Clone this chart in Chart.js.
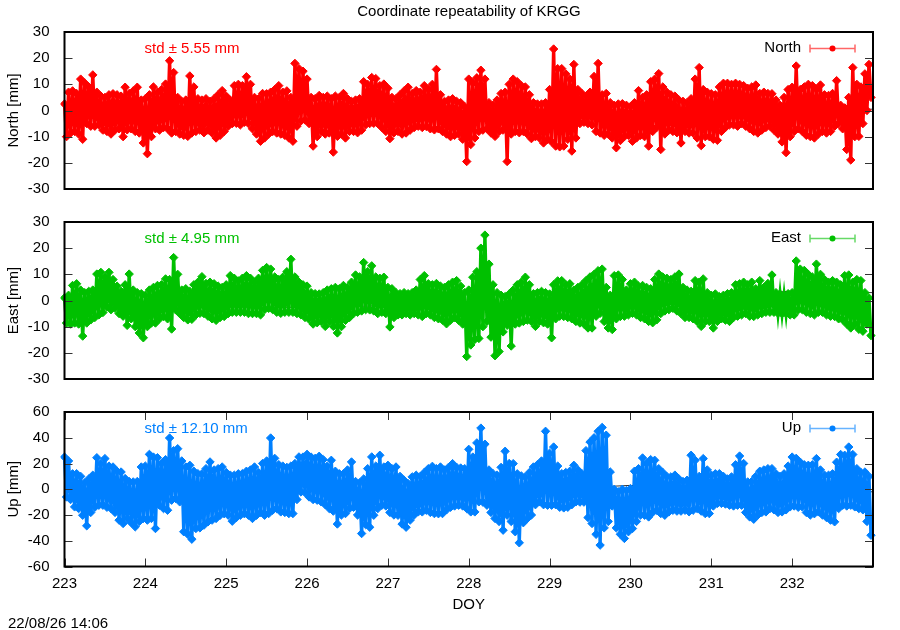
<!DOCTYPE html>
<html>
<head>
<meta charset="utf-8">
<script src="https://cdn.jsdelivr.net/npm/chart.js@4.4.1/dist/chart.umd.min.js"></script>
<style>
  html, body { margin: 0; padding: 0; background: #fff; }
  #wrap { position: relative; width: 900px; height: 630px; overflow: hidden;
          font-family: "Liberation Sans", Arial, sans-serif; color: #000; }
  #wrap canvas { position: absolute; left: 0; }
  .txt { position: absolute; font-size: 15px; line-height: 17px; white-space: nowrap; }
</style>
</head>
<body>
<div id="wrap">
  <canvas id="cNorth" width="900" height="205" style="top:0;width:900px;height:205px"></canvas>
  <canvas id="cEast" width="900" height="190" style="top:205px;width:900px;height:190px"></canvas>
  <canvas id="cUp" width="900" height="235" style="top:395px;width:900px;height:235px"></canvas>
  <div class="txt" style="left:0;width:938px;text-align:center;top:2px">Coordinate repeatability of KRGG</div>
  <div class="txt" style="left:8px;top:614px">22/08/26 14:06</div>
</div>
<script>
// sampling grid: one upper/lower pair every 0.05 day starting at DOY 223
const DAY0 = 223;
const STEP = 0.05;

const dayTicks = [223, 224, 225, 226, 227, 228, 229, 230, 231, 232, 233];
const neTicks = [-30, -20, -10, 0, 10, 20, 30];
const upTicks = [-60, -40, -20, 0, 20, 40, 60];

// North [mm]
const northHi = [2.5,7,7.5,6.5,12,10.5,9,13.6,7,5.5, 5,6,6.4,6,5.5,8.9,6.5,7.5,8.9,4,
  4.5,6,9,7,8,10.1,19,14.5,5,3.5, 4,13.2,9,4.5,4,4.5,3.5,4.5,6,7.6,
  5.5,4,9.5,10,9.5,12.9,10,5,4.5,6.5, 6.4,7,8,9.5,7,7.5,5,18,16,15,
  12,5,4.5,5.75,5,5.5,4.5,5.5,5,6.5, 4.5,3.5,4,4.5,11,10,12.6,12.2,9.5,10.1,
  8.5,5,4.5,6,7.5,8.9,6.5,7.6,7,9.5, 8,10,15.7,6,3.5,4,4.5,3.5,3,1.5,
  12,10.5,12.5,15.4,12,3,2,4,6.5,7, 10,12,11,9.5,9,6,3,2.5,2.5,3,
  8,23.5,16,16,14,12,17.6,8,6.5,5.5, 7,13,18,6,6.5,3,2,2.5,2.6,2,
  1.5,3,7.6,5,6,11,12,14.1,9,7, 6,5.5,4,3.5,3,4.5,12,16.4,8,7,
  6.4,6,9,10.4,10.4,10,10.4,10,9.5,8.5, 9,9.75,6.5,7,6.5,6.4,4,2,5,8,
  8.9,17,8,9,10,9.5,8,9.75,6,5.75, 6.5,11.4,2,1,5,16.4,10,9,14,17.6];
const northLo = [-10,-8.6,-8,-9,-11,-5,-6,-6,-5.5,-7.5, -8,-9,-7.5,-7,-10,-7.4,-7,-8,-8.6,-12.4,
  -16.5,-10,-7,-7.5,-6.5,-7,-8.6,-8,-9,-9.5, -9.9,-8.6,-8,-7.5,-8.5,-7.5,-8.6,-10.5,-9.5,-8,
  -6,-5,-4.9,-5.5,-4.5,-5,-7,-9,-11.75,-10.5, -9,-8,-8.6,-9,-9.5,-10.5,-11.75,-6,-4,-3.6,
  -5,-13.6,-10,-8,-9,-8.6,-15.9,-9.9,-9,-10.5, -8,-8,-8.5,-7.5,-5.5,-5,-4.9,-5,-6.5,-8,
  -10.75,-8.5,-8,-9,-8.6,-7.5,-6.5,-6,-6.5,-6.1, -7,-7.4,-7,-8,-9,-10,-9.5,-9,-11,-19.5,
  -13,-10.5,-8,-7.5,-7,-8.6,-9.9,-8,-7.5,-19.5, -9,-8,-8.5,-8,-9,-10.75,-10,-10.5,-12.4,-11,
  -12,-13.6,-13.9,-13.6,-11,-15.5,-10.5,-5,-4.5,-5, -5.5,-8,-8.6,-9.5,-9,-10.5,-14.25,-11.5,-10,-9.5,
  -11.75,-10.5,-9.5,-10,-13.6,-8,-6.5,-14.9,-9,-7.5, -8,-8.5,-12.4,-8,-8.6,-8.6,-10.5,-13.4,-10,-10,
  -11,-11.4,-8,-6.5,-5.5,-5.5,-6,-5,-6,-7, -8,-8.6,-7.5,-6.5,-6,-7.5,-9,-12,-16.1,-10,
  -8,-7,-8,-9.5,-10,-10.5,-9,-8,-8.6,-8, -6,-5,-7,-14.9,-18.9,-10,-9.9,-5,0,5];

// East [mm]
const eastHi = [1,2,5.75,6.4,4,3,3.5,4,10.1,10.75, 9,10.75,8,5.5,3.5,6,10.1,4,3,2.6,
  2,4,5,5.75,6,8.25,8,16.4,10,4, 4.5,3.5,6,7,9.1,6.5,7,6.4,5.5,5,
  6,9.5,8.5,7.5,8.5,9.5,8.5,7,8.5,11.5, 12.6,12,9,8,8.9,11,15.75,9,7,6,
  5.5,3,2.6,2.5,3,4,4.5,5,4.5,5.75, 5,7,9.75,9,14.5,11,13.25,9,8.5,8.9,
  5,4.5,3,2.6,3,2.6,3,4,8,9.5, 6.4,6,6.5,5.5,5,6,7,7.6,5.5,3,
  4,8.9,11,20,25,13.9,6,3,2,1.5, 2.5,4,6,7,8.9,6,2.6,3,3.5,3,
  2.5,6,7.5,7.6,6,6.4,4,5,6,7.6, 9,10,11.4,12,5,2,9.5,9.75,8,4,
  6.4,7,5.5,5.75,5,4.5,8,10.1,9,8.5, 8,9,10.1,5,4,3.5,7.6,7,8.25,3,
  2,2.5,1.5,2,2.6,3,6,6.4,7,6, 7,4.5,7.6,5,6.5,9.75,3,2.5,2,2.6,
  3,15.1,12,11.5,10,9,13.9,10,8,7, 7.6,7,6,9.5,9.75,7,8,7.6,3,1];
const eastLo = [-8.6,-9,-8.6,-9,-13.6,-8.6,-7.4,-6.5,-5.5,-4.6, -2.5,-3.5,-3,-5,-6,-9.5,-7,-10,-12.4,-14.25,
  -10,-8.6,-8.6,-7,-6.1,-7,-10.9,-3.6,-5,-6.5, -7.4,-7.2,-5.5,-4.9,-5,-6,-7,-7.6,-6.5,-6.1,
  -5,-4.5,-4.5,-4.5,-4.5,-5,-5,-5,-5.5,-3.5, -3,-3.5,-4.5,-4.9,-4.5,-4.5,-4.5,-5,-5.5,-6.5,
  -7.2,-9,-8.5,-8,-9.9,-8,-9.9,-12.4,-10,-7.6, -6.5,-5,-4.5,-4,-3.5,-3.6,-4,-5,-4.5,-5,
  -10.1,-6.5,-5.5,-5.5,-5,-5.5,-5,-5.5,-6.1,-5, -5.5,-6.5,-7,-7.5,-8.9,-7.5,-6.5,-7.6,-9,-21.4,
  -17,-14.9,-14.5,-10,-8,-14,-21.1,-19.5,-12,-9.5, -17.4,-9,-8.6,-8,-7.5,-8,-9.9,-8,-8.5,-9,
  -14.25,-7,-6,-6.1,-6.5,-7,-8,-8.6,-9,-10.5, -10.5,-6,-4.9,-8,-10.5,-11.1,-7,-6.1,-6,-5.5,
  -4.9,-5.5,-6.5,-7,-8,-8.5,-7.4,-5,-4,-3.5, -3,-4,-5,-6.5,-6.5,-7,-8,-9.9,-8,-8,
  -10.5,-8,-7,-7.5,-8,-6.5,-6,-5.5,-5,-6, -6.1,-5.5,-5,-4.5,-4.5,-4.5,-4.9,-5,-5,-5.5,
  -5.5,-3.6,-3.5,-4.5,-5,-5.5,-4.5,-4.5,-5.5,-6, -6.1,-7,-7.4,-9,-10.5,-9,-11,-11.75,-9,-13.4];

// Up [mm]
const upHi = [25,22,12,12.1,10,5,8,10.9,24.5,20, 23.8,18,17.3,14,13.4,8.3,6,5.7,6,17.3,
  18,27.1,25,24.5,19.9,23,39.8,30,31.5,22, 17.3,18.6,14,12.1,12,16,21.2,15,16,17.3,
  13,11,10.9,12,12.1,14,15,17.3,13,20, 22,39.8,24,19.1,18,17,18,20,25.1,25,
  27.1,25,24,25.6,23,18,22.5,14,12,12, 15,21.2,6,5,8,16,25.1,18,26.4,17.3,
  18.6,16,17.3,10,7,4.4,9.6,10.9,10,13, 16,17.8,16,17.3,15,17,19.9,17,16.5,16,
  31,25,36,47.5,35,15,12.1,11,17,29.5, 20,19.9,12,10.4,9.5,13,17.3,19.1,22,45,
  28,32.8,18,12.1,13,14,18.6,15,12,30, 36.7,40,45,48,42,13.4,0,-2,0,-1,
  0.5,14,16,24.3,20,23,22.5,16,13,10, 9.6,11,8,6,7,26.4,22.5,10,23.8,15,
  11,12,12.1,10,8,9.6,19,25.8,20,5.7, 6,10,14,15,16,16,12,10,12,18,
  25,24,21,19,18.6,19,23.8,15,11,10.9, 12,21,27,26.4,32.8,27,16,13,13.4,10];
const upLo = [-6,-8,-13.7,-15,-20.2,-28.4,-18,-14,-12.4,-12.4, -14,-15,-18,-24,-26.6,-22.7,-26,-29.2,-25,-22.7,
  -24,-22.7,-30.5,-12.4,-15,-16.3,-8.5,-7.2,-9.8,-33, -35,-38.8,-30.5,-30,-27.9,-25.3,-24,-22.7,-20.2,-19,
  -20.2,-24.8,-22,-20.2,-19,-20.2,-22.7,-20.2,-18,-20.2, -18.9,-16.3,-15,-17.6,-18,-18.9,-18.9,-8,-2.1,-2.6,
  -6,-8,-8.5,-9.8,-12,-15,-17,-27,-20,-18.9, -15,-14,-20,-34.4,-27.5,-29.5,-20.2,-15,-12.4,-13,
  -18,-20,-20.2,-27,-29.5,-24,-20,-17.6,-17.6,-16.3, -18,-18.9,-19,-18.9,-16,-14,-13,-12.4,-13,-15,
  -17.6,-17.6,-9.8,-10,-12.4,-18,-22.7,-25,-31.8,-20.2, -25,-33,-41.6,-26,-22.7,-20,-12,-9.8,-12,-12.4,
  -12.4,-12,-14,-14.5,-14,-12,-9.8,-10,-10,-22, -26.6,-35,-43.4,-30,-25,-13,-30,-35,-38.2,-33,
  -30.5,-25,-20,-20.2,-21.5,-18,-16.3,-18.9,-20.2,-17.6, -16.3,-17,-17,-16.3,-17.5,-16.3,-15,-17,-18.9,-18.9,
  -13,-11,-11,-11.5,-12.4,-13,-12.4,-12.4,-18,-21.5, -23.3,-20,-18,-17.6,-15,-16,-18,-17.6,-16,-13.7,
  -13,-14,-13.7,-18,-20,-19,-17.6,-20,-22,-24, -25.3,-15,-12.4,-13,-12.4,-13.7,-15,-16,-25,-35.7];

// smoothed trend (dark line behind the points), one value per day tick
const northTrend = [1, 0.5, 0, 1.5, 0.5, -1.2, -1.4, -0.9, 0, 0.5, 0.5];
const eastTrend = [-1.5, -2, -2.5, -2.6, -2, -1.5, -1.5, -0.8, 1.5, 3.6, 3];
const upTrend = [0, 0, -1, -1.5, 0, -0.8, 0, 3, -0.8, -0.8, -2];

Chart.defaults.font.family = '"Liberation Sans", Arial, sans-serif';
Chart.defaults.font.size = 15;
Chart.defaults.color = '#000';

// upper/lower values alternate so the connecting line fills the band
const zigzag = (hi, lo) => {
    const pts = [];
    hi.forEach((h, i) => {
        const d = DAY0 + i * STEP;
        pts.push({ x: d, y: h });
        pts.push({ x: d + STEP / 2, y: lo[i] });
    });
    return pts;
};

// frame, inward tics, std text and gnuplot-like key
const panelFrame = {
    id: 'panelFrame',
    afterDraw(chart, args, o) {
        const { ctx, chartArea: a } = chart;
        const sy = chart.scales.y, sx = chart.scales.x;
        ctx.save();
        ctx.lineWidth = 1;
        ctx.strokeStyle = '#333';
        ctx.beginPath();
        sy.ticks.forEach(t => {
            const y = Math.round(sy.getPixelForValue(t.value)) + 0.5;
            ctx.moveTo(a.left, y); ctx.lineTo(a.left + 8, y);
            ctx.moveTo(a.right, y); ctx.lineTo(a.right - 8, y);
        });
        if (o.xTicks) {
            sx.ticks.forEach(t => {
                const x = Math.round(sx.getPixelForValue(t.value)) + 0.5;
                ctx.moveTo(x, a.bottom); ctx.lineTo(x, a.bottom - 8);
                ctx.moveTo(x, a.top); ctx.lineTo(x, a.top + 8);
            });
        }
        ctx.stroke();
        ctx.lineWidth = 2;
        ctx.strokeStyle = '#000';
        ctx.strokeRect(a.left, a.top, a.right - a.left, a.bottom - a.top);

        ctx.font = '15px "Liberation Sans", Arial, sans-serif';
        ctx.textBaseline = 'middle';
        ctx.textAlign = 'left';
        ctx.fillStyle = o.color;
        ctx.fillText(o.std, a.left + 80, a.top + 17);
        ctx.textAlign = 'right';
        ctx.fillStyle = '#000';
        ctx.fillText(o.name, a.right - 72, a.top + 16);

        const y = a.top + 16.5, x1 = a.right - 63, x2 = a.right - 18;
        ctx.globalAlpha = 0.6;
        ctx.strokeStyle = o.color;
        ctx.lineWidth = 1.5;
        ctx.beginPath();
        ctx.moveTo(x1, y); ctx.lineTo(x2, y);
        ctx.moveTo(x1, y - 4); ctx.lineTo(x1, y + 4);
        ctx.moveTo(x2, y - 4); ctx.lineTo(x2, y + 4);
        ctx.stroke();
        ctx.globalAlpha = 1;
        ctx.fillStyle = o.color;
        ctx.beginPath();
        ctx.arc((x1 + x2) / 2, y, 3, 0, Math.PI * 2);
        ctx.fill();
        ctx.restore();
    }
};

function makePanel(id, p) {
    const xAxis = p.bottom ? {
        type: 'linear', min: 223, max: 233,
        afterFit: s => { s.height = 50; },
        afterBuildTicks: s => { s.ticks = dayTicks.map(v => ({ value: v })); },
        grid: { display: false },
        border: { display: false },
        ticks: { color: '#000', padding: 0, autoSkip: false, maxRotation: 0,
                 callback: v => (v === 233 ? '' : String(v)) },
        title: { display: true, text: 'DOY', color: '#000', padding: { top: 0, bottom: 3 } }
    } : { type: 'linear', min: 223, max: 233, display: false };

    new Chart(document.getElementById(id), {
        type: 'line',
        data: {
            datasets: [{
                data: zigzag(p.hi, p.lo),
                borderColor: p.color,
                backgroundColor: p.color,
                borderWidth: 3.4,
                pointStyle: 'rectRot',
                pointRadius: 4.2,
                pointBorderWidth: 1,
                pointBorderColor: p.color,
                pointBackgroundColor: p.color,
                tension: 0,
                clip: 4,
                order: 1
            }, {
                data: dayTicks.map((d, i) => ({ x: d, y: p.trend[i] })),
                borderColor: '#333',
                borderWidth: 1,
                pointRadius: 0,
                order: 2
            }]
        },
        options: {
            responsive: false,
            animation: false,
            events: [],
            layout: { padding: p.pad },
            plugins: {
                legend: { display: false },
                tooltip: { enabled: false },
                panelFrame: { name: p.name, std: p.std, color: p.color, xTicks: !!p.bottom }
            },
            scales: {
                x: xAxis,
                y: {
                    min: p.ticks[0], max: p.ticks[p.ticks.length - 1],
                    afterFit: s => { s.width = 64.5; },
                    afterBuildTicks: s => { s.ticks = p.ticks.map(v => ({ value: v })); },
                    grid: { display: false },
                    border: { display: false },
                    ticks: { color: '#000', padding: 7 },
                    title: { display: true, text: p.name + ' [mm]', color: '#000', padding: { top: 5, bottom: 0 } }
                }
            }
        },
        plugins: [panelFrame]
    });
}

makePanel('cNorth', { name: 'North', std: 'std \u00b1 5.55 mm', color: '#ff0000',
    hi: northHi, lo: northLo, trend: northTrend, ticks: neTicks,
    pad: { left: 0, right: 27, top: 32, bottom: 13 } });
makePanel('cEast', { name: 'East', std: 'std \u00b1 4.95 mm', color: '#00c000',
    hi: eastHi, lo: eastLo, trend: eastTrend, ticks: neTicks,
    pad: { left: 0, right: 27, top: 17, bottom: 13 } });
makePanel('cUp', { name: 'Up', std: 'std \u00b1 12.10 mm', color: '#0080ff',
    hi: upHi, lo: upLo, trend: upTrend, ticks: upTicks, bottom: true,
    pad: { left: 0, right: 27, top: 17, bottom: 13.5 } });
</script>
</body>
</html>
